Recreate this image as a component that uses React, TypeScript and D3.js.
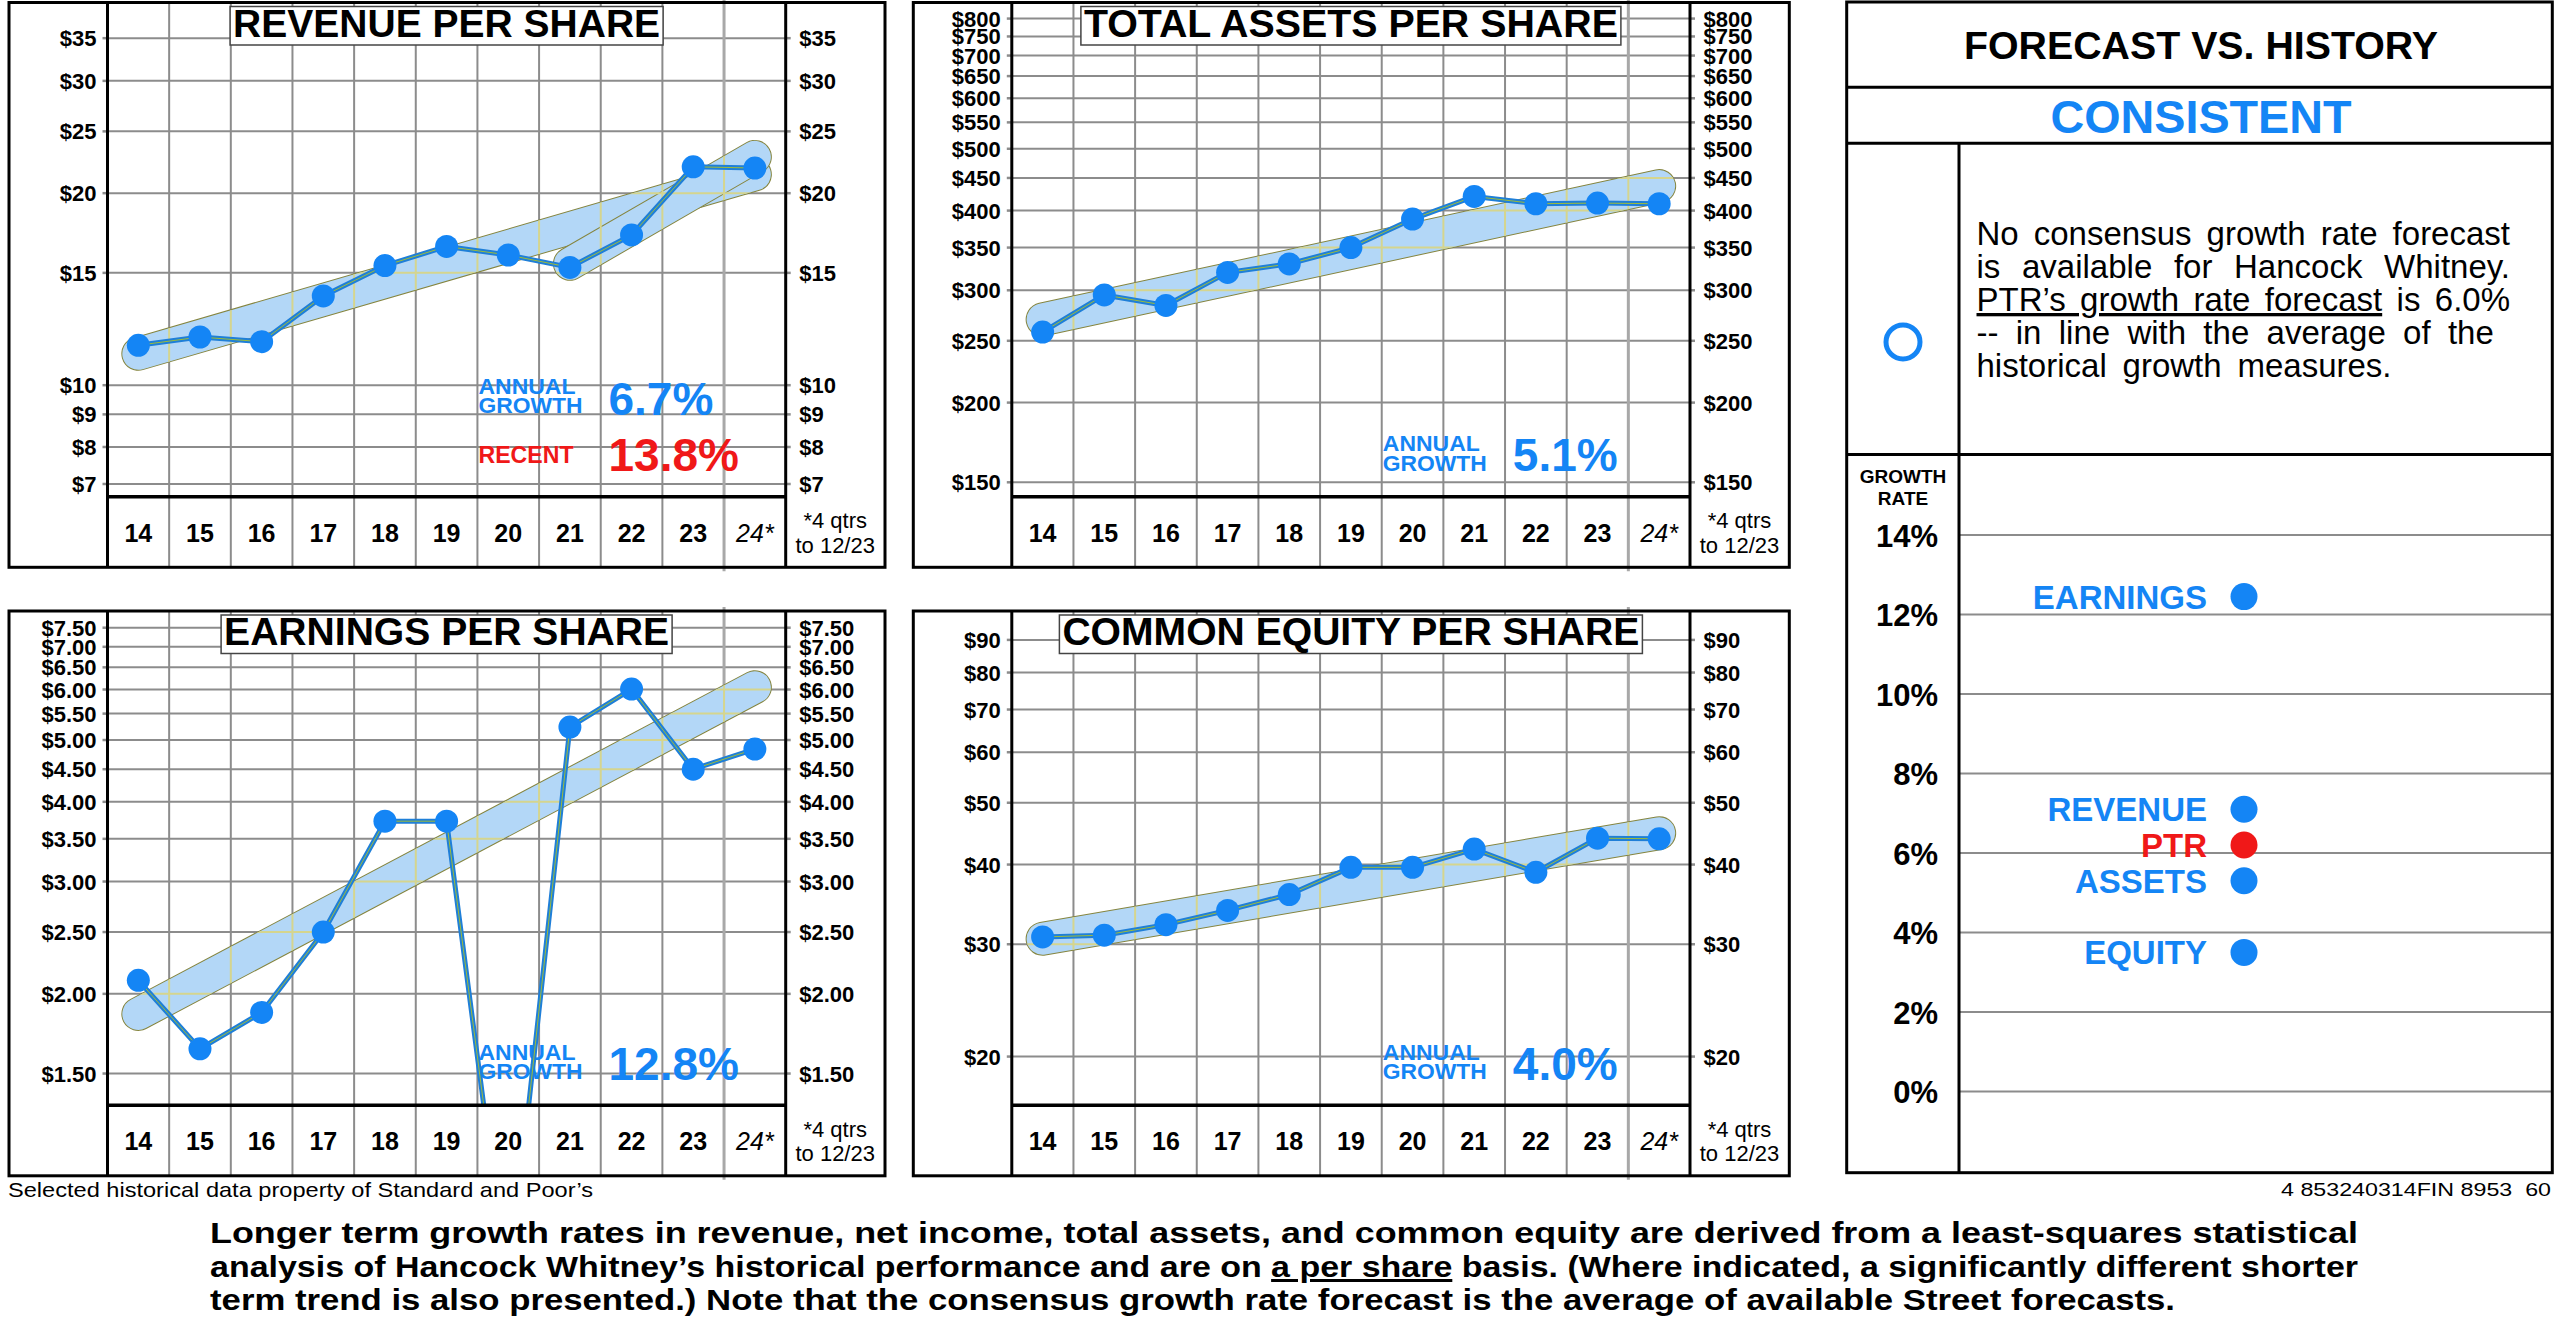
import React, { useEffect, useRef } from 'react';
import * as d3 from 'd3';

const FONT = "'Liberation Sans', Arial, Helvetica, sans-serif";
const BLUE = '#1485f5';
const LINE_BLUE = '#1f7fd8';
const RED = '#f01818';
const GRID = '#8c8c8c';
const BAND_FILL = '#b3d7f7';
const BAND_EDGE = '#85853f';
const BAND_GRID = '#d5d58e';

// fiscal years on the x axis, the last one is the trailing 4 quarters
const years = ['14', '15', '16', '17', '18', '19', '20', '21', '22', '23', '24'];

const revenueValues = [11.55, 11.9, 11.7, 13.8, 15.4, 16.5, 16.0, 15.3, 17.2, 22.0, 21.9];
const revenueTicks = [7, 8, 9, 10, 15, 20, 25, 30, 35];
const revenueDomain: [number, number] = [6.686, 39.81];
const revenueTrend = [11.2, 21.4];
const revenueRecent = [15.5, 22.8];

const assetsValues = [258, 295, 284, 320, 330, 350, 388, 421, 410, 411, 410];
const assetsTicks = [150, 200, 250, 300, 350, 400, 450, 500, 550, 600, 650, 700, 750, 800];
const assetsDomain: [number, number] = [142.4, 847.8];
const assetsTrend = [270, 437];

const epsValues = [2.1, 1.64, 1.87, 2.5, 3.73, 3.73, 0.68, 5.24, 6.01, 4.5, 4.84];
const epsTicks = [1.5, 2, 2.5, 3, 3.5, 4, 4.5, 5, 5.5, 6, 6.5, 7, 7.5];
const epsDomain: [number, number] = [1.338, 7.966];
const epsTrend = [1.86, 6.05];

const equityValues = [30.8, 31.0, 32.2, 33.9, 35.9, 39.6, 39.6, 42.3, 38.9, 44.0, 43.9];
const equityTicks = [20, 30, 40, 50, 60, 70, 80, 90];
const equityDomain: [number, number] = [16.78, 99.9];
const equityTrend = [30.6, 44.8];

const growthTicks = [0, 2, 4, 6, 8, 10, 12, 14];
const forecastLabels = ['EARNINGS', 'REVENUE', 'PTR', 'ASSETS', 'EQUITY'];
const forecastValues = [12.45, 7.1, 6.2, 5.3, 3.5];

interface Trend {
    from: string;
    to: string;
    start: number;
    end: number;
}

interface PanelSpec {
    id: string;
    title: string;
    titleW: number;
    x: number;
    y: number;
    values: number[];
    domain: [number, number];
    ticks: number[];
    decimals: number;
    trends: Trend[];
    growth: string;
    recent?: string;
}

const panels: PanelSpec[] = [
    {
        id: 'rev', title: 'REVENUE PER SHARE', titleW: 427, x: 9, y: 2.5,
        values: revenueValues, domain: revenueDomain, ticks: revenueTicks, decimals: 0,
        trends: [
            { from: '14', to: '24', start: revenueTrend[0], end: revenueTrend[1] },
            { from: '21', to: '24', start: revenueRecent[0], end: revenueRecent[1] },
        ],
        growth: '6.7%', recent: '13.8%',
    },
    {
        id: 'ast', title: 'TOTAL ASSETS PER SHARE', titleW: 534, x: 913.3, y: 2.5,
        values: assetsValues, domain: assetsDomain, ticks: assetsTicks, decimals: 0,
        trends: [{ from: '14', to: '24', start: assetsTrend[0], end: assetsTrend[1] }],
        growth: '5.1%',
    },
    {
        id: 'eps', title: 'EARNINGS PER SHARE', titleW: 445, x: 9, y: 611,
        values: epsValues, domain: epsDomain, ticks: epsTicks, decimals: 2,
        trends: [{ from: '14', to: '24', start: epsTrend[0], end: epsTrend[1] }],
        growth: '12.8%',
    },
    {
        id: 'eq', title: 'COMMON EQUITY PER SHARE', titleW: 577, x: 913.3, y: 611,
        values: equityValues, domain: equityDomain, ticks: equityTicks, decimals: 0,
        trends: [{ from: '14', to: '24', start: equityTrend[0], end: equityTrend[1] }],
        growth: '4.0%',
    },
];

// panel geometry
const W = 876;
const H = 564.8;
const PL = 98.5;
const PR = W - 99.3;
const PH = 494.2;
const BAND_W = 32;

const Panel: React.FC<{ spec: PanelSpec }> = ({ spec }) => {
    const { id } = spec;
    const xScale = d3.scaleBand<string>().domain(years).range([PL, PR]).padding(0);
    const colW = xScale.bandwidth();
    const cx = (yr: string) => (xScale(yr) ?? 0) + colW / 2;
    const yScale = d3.scaleLog().domain(spec.domain).range([PH, 0]);

    const linePath =
        d3.line<number>()
            .x((_, i) => cx(years[i]))
            .y((d) => yScale(d))(spec.values) ?? '';

    const trendPaths = spec.trends.map(
        (t) =>
            d3.line<[string, number]>()
                .x((d) => cx(d[0]))
                .y((d) => yScale(d[1]))([
                [t.from, t.start],
                [t.to, t.end],
            ]) ?? '',
    );

    const gridV = d3.range(1, years.length).map((i) => PL + i * colW);
    const fmt = (v: number) => '$' + v.toFixed(spec.decimals);
    const hasRecent = !!spec.recent;
    const midX = (PL + PR) / 2;

    return (
        <g transform={`translate(${spec.x},${spec.y})`} fontFamily={FONT}>
            <defs>
                <clipPath id={`${id}-clip`}>
                    <rect x={PL} y={0} width={PR - PL} height={PH} />
                </clipPath>
                <mask id={`${id}-mask`} maskUnits="userSpaceOnUse" x={0} y={0} width={W} height={H}>
                    <rect x={0} y={0} width={W} height={H} fill="black" />
                    {trendPaths.map((p, i) => (
                        <path key={i} d={p} stroke="white" strokeWidth={BAND_W} strokeLinecap="round" fill="none" />
                    ))}
                </mask>
            </defs>
            <rect x={0} y={0} width={W} height={H} fill="#fff" />

            {/* grid */}
            {spec.ticks.map((t) => (
                <g key={t}>
                    <line x1={PL} x2={PR} y1={yScale(t)} y2={yScale(t)} stroke={GRID} strokeWidth={2} />
                    <line x1={PL - 5} x2={PL} y1={yScale(t)} y2={yScale(t)} stroke={GRID} strokeWidth={2.5} />
                    <line x1={PR} x2={PR + 5} y1={yScale(t)} y2={yScale(t)} stroke={GRID} strokeWidth={2.5} />
                </g>
            ))}
            {gridV.map((gx, i) =>
                i === gridV.length - 1 ? (
                    <line key={gx} x1={gx} x2={gx} y1={-4} y2={H + 4} stroke="#a8a8a8" strokeWidth={3} />
                ) : (
                    <line key={gx} x1={gx} x2={gx} y1={0} y2={H} stroke={GRID} strokeWidth={2} />
                ),
            )}

            {/* trend bands */}
            <g clipPath={`url(#${id}-clip)`}>
                {trendPaths.map((p, i) => (
                    <g key={i}>
                        <path d={p} stroke={BAND_EDGE} strokeWidth={BAND_W + 2} strokeLinecap="round" fill="none" />
                        <path d={p} stroke={BAND_FILL} strokeWidth={BAND_W} strokeLinecap="round" fill="none" />
                    </g>
                ))}
                <g mask={`url(#${id}-mask)`}>
                    {spec.ticks.map((t) => (
                        <line key={'h' + t} x1={PL} x2={PR} y1={yScale(t)} y2={yScale(t)} stroke={BAND_GRID} strokeWidth={2} />
                    ))}
                    {gridV.map((gx) => (
                        <line key={'v' + gx} x1={gx} x2={gx} y1={0} y2={PH} stroke={BAND_GRID} strokeWidth={2} />
                    ))}
                </g>
            </g>

            {/* growth labels */}
            <g fill={BLUE}>
                <text x={PL + 371} y={hasRecent ? 391.5 : 448.5} fontSize={22} fontWeight="bold" textLength={97} lengthAdjust="spacingAndGlyphs">ANNUAL</text>
                <text x={PL + 371} y={hasRecent ? 410.5 : 468} fontSize={22} fontWeight="bold" textLength={104} lengthAdjust="spacingAndGlyphs">GROWTH</text>
                <text x={PL + 501} y={hasRecent ? 412 : 468.5} fontSize={46} fontWeight="bold">
                    {spec.growth}
                </text>
            </g>
            {hasRecent && (
                <g fill={RED} fontWeight="bold">
                    <text x={PL + 371} y={460.5} fontSize={23} textLength={95} lengthAdjust="spacingAndGlyphs">RECENT</text>
                    <text x={PL + 501} y={468.5} fontSize={46}>{spec.recent}</text>
                </g>
            )}

            {/* data */}
            <g clipPath={`url(#${id}-clip)`}>
                <path d={linePath} fill="none" stroke={LINE_BLUE} strokeWidth={5} strokeLinejoin="round" />
                <path d={linePath} fill="none" stroke="#9cbc3c" strokeWidth={1} />
                {spec.values.map((v, i) => (
                    <circle key={i} cx={cx(years[i])} cy={yScale(v)} r={11.5} fill={BLUE} />
                ))}
            </g>

            {/* frame */}
            <line x1={PL} x2={PR} y1={PH} y2={PH} stroke="#000" strokeWidth={3.5} />
            <line x1={PL} x2={PL} y1={0} y2={H} stroke="#000" strokeWidth={3} />
            <line x1={PR} x2={PR} y1={0} y2={H} stroke="#000" strokeWidth={3} />
            <rect x={0} y={0} width={W} height={H} fill="none" stroke="#000" strokeWidth={3} />

            {/* title */}
            <rect x={midX - spec.titleW / 2 - 3} y={4} width={spec.titleW + 6} height={38.5} fill="#fff" stroke="#444" strokeWidth={1.5} />
            <text x={midX} y={34} textAnchor="middle" fontSize={39} fontWeight="bold" textLength={spec.titleW} lengthAdjust="spacingAndGlyphs">
                {spec.title}
            </text>

            {/* y tick labels */}
            <g fontSize={22} fontWeight="bold">
                {spec.ticks.map((t) => (
                    <g key={t}>
                        <text x={PL - 11} y={yScale(t) + 8} textAnchor="end">{fmt(t)}</text>
                        <text x={PR + 13.5} y={yScale(t) + 8}>{fmt(t)}</text>
                    </g>
                ))}
            </g>

            {/* x labels */}
            {years.map((yr, i) => (
                <text
                    key={yr}
                    x={cx(yr)}
                    y={PH + 45}
                    textAnchor="middle"
                    fontSize={25}
                    fontWeight={i === years.length - 1 ? 'normal' : 'bold'}
                    fontStyle={i === years.length - 1 ? 'italic' : 'normal'}
                >
                    {i === years.length - 1 ? yr + '*' : yr}
                </text>
            ))}
            <text x={PR + 49.5} y={PH + 31.3} textAnchor="middle" fontSize={22}>*4 qtrs</text>
            <text x={PR + 49.5} y={PH + 56} textAnchor="middle" fontSize={22}>to 12/23</text>
        </g>
    );
};

const FX0 = 1846.7;
const FX1 = 2552.3;
const FY0 = 2;
const FY1 = 1172.7;
const FDIV = 1959;

const ForecastPanel: React.FC = () => {
    const gy = d3.scaleLinear().domain([0, 14]).range([1091.5, 535]);
    return (
        <g fontFamily={FONT}>
            <rect x={FX0} y={FY0} width={FX1 - FX0} height={FY1 - FY0} fill="#fff" />
            {growthTicks.map((t) => (
                <g key={t}>
                    <line x1={FDIV} x2={FX1} y1={gy(t)} y2={gy(t)} stroke={GRID} strokeWidth={2} />
                    <text x={1938} y={gy(t) + 11.5} textAnchor="end" fontSize={31} fontWeight="bold">
                        {t}%
                    </text>
                </g>
            ))}
            <line x1={FX0} x2={FX1} y1={87.3} y2={87.3} stroke="#000" strokeWidth={3} />
            <line x1={FX0} x2={FX1} y1={143.3} y2={143.3} stroke="#000" strokeWidth={3} />
            <line x1={FX0} x2={FX1} y1={454.6} y2={454.6} stroke="#000" strokeWidth={3} />
            <line x1={FDIV} x2={FDIV} y1={143.3} y2={FY1} stroke="#000" strokeWidth={3} />
            <rect x={FX0} y={FY0} width={FX1 - FX0} height={FY1 - FY0} fill="none" stroke="#000" strokeWidth={3} />

            <text x={2201} y={59.3} textAnchor="middle" fontSize={39} fontWeight="bold" textLength={474} lengthAdjust="spacingAndGlyphs">FORECAST VS. HISTORY</text>
            <text x={2201} y={132.7} textAnchor="middle" fontSize={47} fontWeight="bold" fill={BLUE} textLength={301} lengthAdjust="spacingAndGlyphs">CONSISTENT</text>
            <circle cx={1903} cy={342} r={17} fill="none" stroke={BLUE} strokeWidth={5} />

            <g fontSize={33} style={{ whiteSpace: 'pre' }}>
                <text x={1976.5} y={245} data-justify={533.5}>No consensus growth rate forecast</text>
                <text x={1976.5} y={278} data-justify={533.5}>is available for Hancock Whitney.</text>
                <text x={1976.5} y={311} data-justify={533.5}>
                    <tspan style={{ textDecoration: 'underline' }}>PTR’s growth rate forecast</tspan> is 6.0%
                </text>
                <text x={1976.5} y={344} data-justify={533.5}>--   in line with the average of the</text>
                <text x={1976.5} y={377} data-justify={415}>historical growth measures.</text>
            </g>

            <text x={1903} y={482.7} textAnchor="middle" fontSize={19} fontWeight="bold">GROWTH</text>
            <text x={1903} y={505} textAnchor="middle" fontSize={19} fontWeight="bold">RATE</text>

            {forecastLabels.map((lab, i) => {
                const c = lab === 'PTR' ? RED : BLUE;
                const yy = gy(forecastValues[i]);
                return (
                    <g key={lab}>
                        <text x={2207} y={yy + 12} textAnchor="end" fontSize={33} fontWeight="bold" fill={c}>{lab}</text>
                        <circle cx={2244} cy={yy} r={13.5} fill={c} />
                    </g>
                );
            })}
        </g>
    );
};

export default function App() {
    const svgRef = useRef<SVGSVGElement | null>(null);

    useEffect(() => {
        if (!svgRef.current) return;
        // justify paragraph lines by spreading the word gaps
        d3.select(svgRef.current)
            .selectAll<SVGTextElement, unknown>('text[data-justify]')
            .each(function () {
                const target = +(this.getAttribute('data-justify') ?? 0);
                const natural = this.getComputedTextLength();
                const gaps = (this.textContent ?? '').split(' ').length - 1;
                if (gaps > 0) d3.select(this).attr('word-spacing', (target - natural) / gaps);
            });
    }, []);

    return (
        <div style={{ position: 'absolute', left: 0, top: 0 }}>
            <svg ref={svgRef} width={2560} height={1331} style={{ display: 'block', background: '#fff' }}>
                {panels.map((p) => (
                    <Panel key={p.id} spec={p} />
                ))}
                <ForecastPanel />

                <g fontFamily={FONT}>
                    <text x={8} y={1197} fontSize={21} textLength={585} lengthAdjust="spacingAndGlyphs">
                        Selected historical data property of Standard and Poor’s
                    </text>
                    <text x={2551} y={1196} fontSize={19} textAnchor="end" textLength={270} lengthAdjust="spacingAndGlyphs" style={{ whiteSpace: 'pre' }}>
                        4 853240314FIN 8953  60
                    </text>
                    <g fontSize={30} fontWeight="bold" style={{ whiteSpace: 'pre' }}>
                        <text x={210} y={1243} textLength={2148} lengthAdjust="spacingAndGlyphs">
                            Longer term growth rates in revenue, net income, total assets, and common equity are derived from a least-squares  statistical
                        </text>
                        <text x={210} y={1277} textLength={2148} lengthAdjust="spacingAndGlyphs">
                            analysis of Hancock Whitney’s historical performance and are on <tspan style={{ textDecoration: 'underline' }}>a per share</tspan> basis. (Where indicated, a significantly different shorter
                        </text>
                        <text x={210} y={1310} textLength={1965} lengthAdjust="spacingAndGlyphs">
                            term trend is also presented.) Note that the consensus growth rate forecast is the average of available Street forecasts.
                        </text>
                    </g>
                </g>
            </svg>
        </div>
    );
}
